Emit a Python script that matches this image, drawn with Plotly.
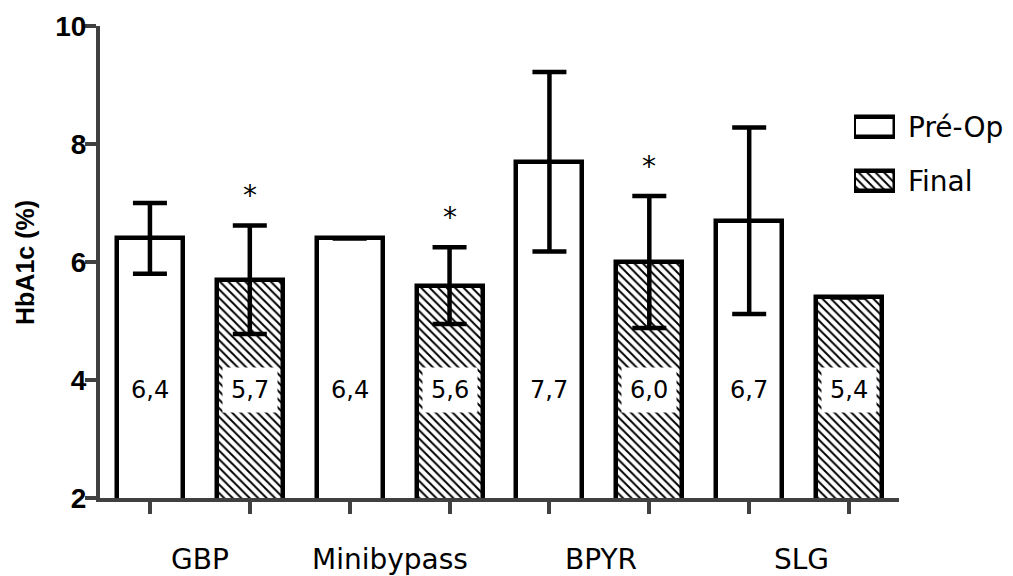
import plotly.graph_objects as go

# HbA1c (%) before surgery and at final follow-up, per procedure
groups = ["GBP", "Minibypass", "BPYR", "SLG"]
pre_op = [6.4, 6.4, 7.7, 6.7]
pre_op_err = [0.6, None, 1.52, 1.58]
final = [5.7, 5.6, 6.0, 5.4]
final_err = [0.92, 0.65, 1.12, None]
significant = [True, True, True, False]

pre_labels = ["6,4", "6,4", "7,7", "6,7"]
final_labels = ["5,7", "5,6", "6,0", "5,4"]

W, H = 1013, 576
L, R, T, B = 100, 114, 26, 78
plot_w = W - L - R
plot_h = H - T - B


def px_x(p):
    return (p - L) / plot_w


def px_y(p):
    return (H - B - p) / plot_h


pre_x = [2 * i for i in range(len(groups))]
final_x = [2 * i + 1 for i in range(len(groups))]

BAR_W = 0.66
LINE = dict(color="black", width=4.5)
HATCH = dict(shape="\\", size=6, solidity=0.32, fgcolor="black", bgcolor="white", fillmode="replace")
ERR = dict(thickness=4.5, width=17, color="black")

fig = go.Figure()
fig.add_trace(go.Bar(
    x=pre_x, y=pre_op, width=BAR_W, name="Pré-Op",
    marker=dict(color="white", line=LINE),
    error_y=dict(type="data", array=pre_op_err, visible=True, **ERR),
    showlegend=False,
))
fig.add_trace(go.Bar(
    x=final_x, y=final, width=BAR_W, name="Final",
    marker=dict(color="white", line=LINE, pattern=HATCH),
    error_y=dict(type="data", array=final_err, visible=True, **ERR),
    showlegend=False,
))

# Legend swatches drawn as horizontal bars on a small hidden subplot
fig.add_trace(go.Bar(
    x=[1], y=[1], base=0, orientation="h", width=0.36,
    marker=dict(color="white", line=LINE),
    xaxis="x2", yaxis="y2", showlegend=False, cliponaxis=False, hoverinfo="skip",
))
fig.add_trace(go.Bar(
    x=[1], y=[0], base=0, orientation="h", width=0.36,
    marker=dict(color="white", line=LINE, pattern=HATCH),
    xaxis="x2", yaxis="y2", showlegend=False, cliponaxis=False, hoverinfo="skip",
))

label_font = dict(family="DejaVu Sans", size=28, color="black")
value_font = dict(family="DejaVu Sans", size=24, color="black")

annotations = []
for xs, labels in ((pre_x, pre_labels), (final_x, final_labels)):
    for x, t in zip(xs, labels):
        annotations.append(dict(
            x=x, y=3.83, xref="x", yref="y", text=t, showarrow=False,
            font=value_font, bgcolor="white", borderpad=8,
        ))

for x, v, e, sig in zip(final_x, final, final_err, significant):
    if sig:
        annotations.append(dict(
            x=x, y=v + e, xref="x", yref="y", text="*", showarrow=False,
            font=dict(family="DejaVu Sans", size=28, color="black"),
            yanchor="bottom", yshift=11,
        ))

group_pos = [0.5, 2.4, 4.52, 6.52]
for x, g in zip(group_pos, groups):
    annotations.append(dict(
        x=x, y=px_y(559), xref="x", yref="paper", text=g, showarrow=False,
        font=label_font, yanchor="middle",
    ))

annotations.append(dict(
    x=px_x(25), y=px_y(263), xref="paper", yref="paper", text="<b>HbA1c (%)</b>",
    showarrow=False, textangle=-90, xanchor="center", yanchor="middle",
    font=dict(family="Liberation Sans", size=25, color="black"),
))

for y_px, t in ((127, "Pré-Op"), (181, "Final")):
    annotations.append(dict(
        x=px_x(906), y=px_y(y_px), xref="paper", yref="paper", text=t,
        showarrow=False, xanchor="left", yanchor="middle", font=label_font,
    ))

AXIS_COLOR = "#404040"
fig.update_layout(
    width=W, height=H,
    margin=dict(l=L, r=R, t=T, b=B, pad=0),
    plot_bgcolor="white", paper_bgcolor="white",
    bargap=0, barmode="overlay",
    annotations=annotations,
    xaxis=dict(
        range=[-0.5, 7.5], tickvals=list(range(8)), ticktext=[""] * 8,
        showline=True, linecolor=AXIS_COLOR, linewidth=4,
        ticks="outside", ticklen=12, tickwidth=4, tickcolor=AXIS_COLOR,
        showgrid=False, zeroline=False, fixedrange=True,
    ),
    yaxis=dict(
        range=[2, 10], tickvals=[2, 4, 6, 8, 10],
        showline=True, linecolor=AXIS_COLOR, linewidth=4,
        ticks="outside", ticklen=11, tickwidth=4, tickcolor=AXIS_COLOR,
        tickfont=dict(family="Liberation Sans", size=28, color="black", weight="bold"),
        ticklabelstandoff=-7,
        showgrid=False, zeroline=False, fixedrange=True,
    ),
    xaxis2=dict(
        domain=[px_x(854), px_x(895)], range=[0, 1], anchor="y2",
        visible=False, fixedrange=True,
    ),
    yaxis2=dict(
        domain=[px_y(208), px_y(100)], range=[-0.5, 1.5], anchor="x2",
        visible=False, fixedrange=True,
    ),
)

fig.write_html("out.html")
